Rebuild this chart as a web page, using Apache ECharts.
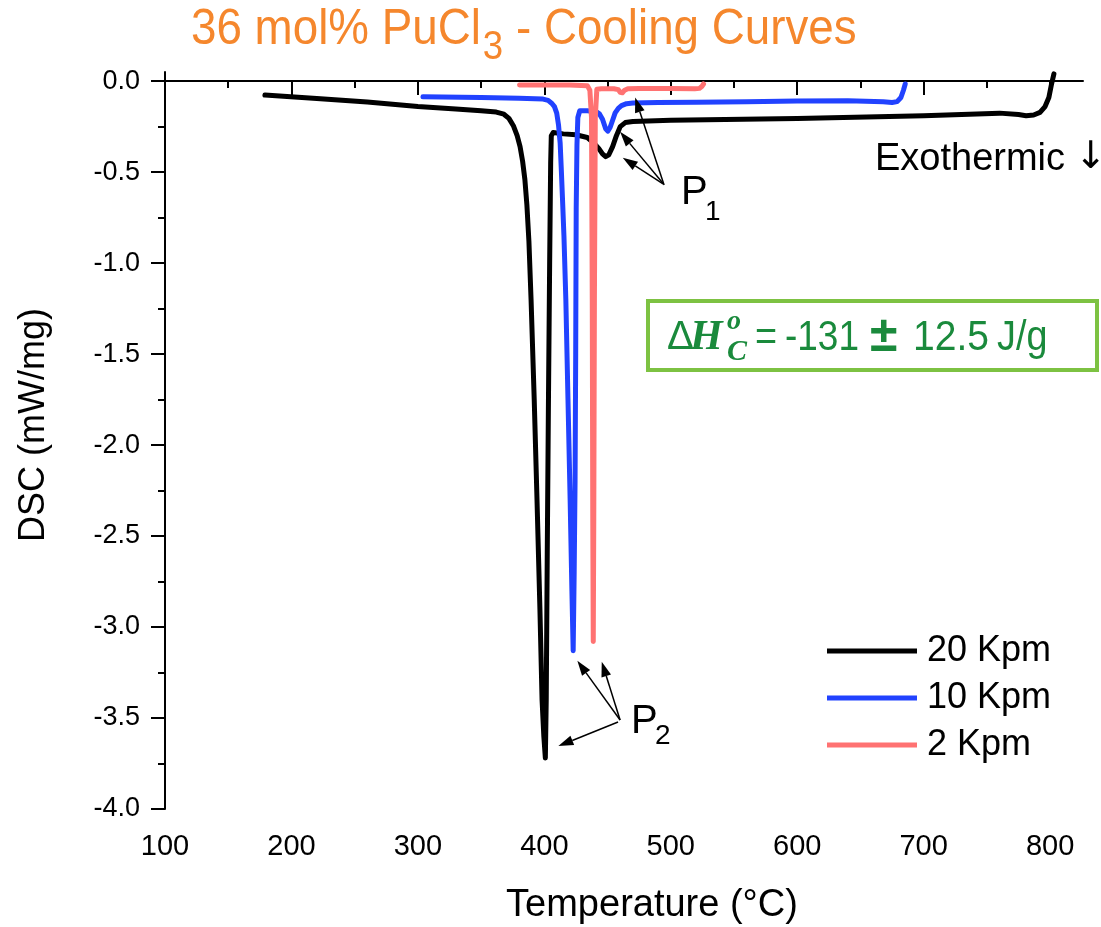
<!DOCTYPE html>
<html>
<head>
<meta charset="utf-8">
<script src="https://cdn.jsdelivr.net/npm/echarts@6/dist/echarts.min.js"></script>
<style>
  html, body { margin: 0; padding: 0; background: #ffffff; }
  #chart { width: 1101px; height: 927px; }
</style>
</head>
<body>
<div id="chart"></div>
<script>
// ---- DSC cooling curves, 36 mol% PuCl3 ----
const seriesNames = ['20 Kpm', '10 Kpm', '2 Kpm'];
const seriesColors = ['#000000', '#2142FF', '#FF7272'];

// 20 K/min run: temperature (°C) and heat flow (mW/mg), high T to low T
const temp20 = [803, 801, 799, 796, 792, 787, 781, 775, 760, 700, 600, 500, 470, 464, 460, 457, 454, 451, 448.5, 446, 443, 439, 434, 425, 415, 407,
  405.5, 405, 404.2, 403.2, 402.3, 401.5, 400.8, 399.6, 398.2, 396.5, 394.2, 392, 389.5, 387.8, 386.2, 384.6, 382.8, 380.8, 378.5, 375.5, 372, 368, 362, 350, 330, 300, 260, 220, 179];
const dsc20 = [0.04, -0.02, -0.09, -0.14, -0.172, -0.186, -0.19, -0.184, -0.176, -0.19, -0.205, -0.215, -0.222, -0.228, -0.25, -0.3, -0.36, -0.405, -0.415, -0.4, -0.37, -0.34, -0.31, -0.295, -0.29, -0.283,
  -0.3, -0.45, -1.0, -1.8, -2.6, -3.4, -3.72, -3.6, -3.4, -2.9, -2.3, -1.75, -1.2, -0.88, -0.68, -0.54, -0.44, -0.36, -0.3, -0.245, -0.205, -0.182, -0.17, -0.163, -0.153, -0.14, -0.115, -0.095, -0.077];

// 10 K/min run
const temp10 = [685.4, 684, 682, 679, 675, 668, 640, 600, 560, 520, 490, 470, 465, 461, 458.5, 456, 454, 452, 450.2, 448.5, 446, 443.5, 441, 434, 428,
  426.5, 425.8, 425.2, 424.8, 424.3, 423.6, 422.8, 421.8, 420.4, 418.7, 417, 415.5, 414.6, 413.5, 412.5, 411.2, 409.8, 408, 406, 403, 399, 380, 350, 304];
const dsc10 = [-0.016, -0.05, -0.09, -0.113, -0.118, -0.113, -0.108, -0.11, -0.113, -0.116, -0.118, -0.12, -0.124, -0.135, -0.15, -0.175, -0.215, -0.255, -0.275, -0.262, -0.21, -0.18, -0.168, -0.163, -0.163,
  -0.2, -0.35, -0.7, -1.5, -2.2, -2.7, -3.13, -2.8, -2.3, -1.75, -1.2, -0.85, -0.69, -0.5, -0.34, -0.24, -0.176, -0.14, -0.123, -0.106, -0.099, -0.094, -0.09, -0.086];

// 2 K/min run
const temp2 = [525.9, 524.5, 522.7, 519, 500, 475, 466, 463.5, 461.7, 460, 458.5, 455, 445, 441.5,
  440.3, 439.6, 439.1, 438.7, 438.3, 437.9, 437.3, 436, 434, 420, 400, 380.4];
const dsc2 = [-0.016, -0.03, -0.04, -0.042, -0.041, -0.04, -0.042, -0.05, -0.064, -0.062, -0.047, -0.042, -0.042, -0.045,
  -0.2, -1.2, -2.4, -3.08, -2.4, -1.2, -0.2, -0.05, -0.025, -0.021, -0.021, -0.022];

// axis ticks
const xTicks = [100, 200, 300, 400, 500, 600, 700, 800];
const xMinorTicks = [150, 250, 350, 450, 550, 650, 750];
const yTicks = [0, -0.5, -1, -1.5, -2, -2.5, -3, -3.5, -4];
const yMinorTicks = [-0.25, -0.75, -1.25, -1.75, -2.25, -2.75, -3.25, -3.75];

// annotation arrows (data coordinates): [from, to]
const p1Arrows = [
  [[494.7, -0.571], [471.8, -0.090]],
  [[494.3, -0.565], [459.9, -0.279]],
  [[493.9, -0.565], [462.0, -0.421]]
];
const p2Arrows = [
  [[458.3, -3.522], [411.1, -3.654]],
  [[459.9, -3.511], [426.1, -3.185]],
  [[459.9, -3.511], [445.4, -3.191]]
];

const SANS = '"Liberation Sans", Arial, Helvetica, sans-serif';
const SERIF = '"Liberation Serif", "Times New Roman", serif';
const GREEN_TEXT = '#1A8A3C';

const toPairs = (xs, ys) => xs.map((x, i) => [x, ys[i]]);
const runs = [toPairs(temp20, dsc20), toPairs(temp10, dsc10), toPairs(temp2, dsc2)];

const chart = echarts.init(document.getElementById('chart'), null, { renderer: 'canvas' });

const axisLineStyle = { color: '#000', width: 2 };

const option = {
  animation: false,
  backgroundColor: '#ffffff',
  grid: { left: 165, right: 18, top: 72, bottom: 118, containLabel: false },
  legend: {
    data: seriesNames,
    orient: 'vertical',
    left: 822,
    top: 628,
    icon: 'rect',
    itemWidth: 90,
    itemHeight: 5,
    itemGap: 11,
    textStyle: { fontFamily: SANS, fontSize: 36, color: '#000', padding: [0, 0, 0, 5] }
  },
  xAxis: [
    {
      type: 'value', min: 100, max: 826, interval: 100,
      axisLine: { show: true, lineStyle: axisLineStyle },
      axisTick: { show: true, inside: false, length: 14, lineStyle: axisLineStyle, customValues: xTicks },
      axisLabel: { customValues: xTicks, fontFamily: SANS, fontSize: 29, color: '#000', margin: 23 },
      splitLine: { show: false }
    },
    {
      type: 'value', min: 100, max: 826, position: 'bottom',
      axisLine: { show: false },
      axisTick: { show: true, inside: false, length: 7, lineStyle: axisLineStyle, customValues: xMinorTicks },
      axisLabel: { show: false },
      splitLine: { show: false }
    }
  ],
  yAxis: [
    {
      type: 'value', min: -4, max: 0.05, interval: 0.5,
      axisLine: { show: true, lineStyle: axisLineStyle },
      axisTick: { show: true, inside: false, length: 14, lineStyle: axisLineStyle, customValues: yTicks },
      axisLabel: {
        customValues: yTicks, fontFamily: SANS, fontSize: 27, color: '#000', margin: 25,
        formatter: v => (Math.abs(v) < 1e-9 ? 0 : v).toFixed(1)
      },
      splitLine: { show: false }
    },
    {
      type: 'value', min: -4, max: 0.05, position: 'left',
      axisLine: { show: false },
      axisTick: { show: true, inside: false, length: 7, lineStyle: axisLineStyle, customValues: yMinorTicks },
      axisLabel: { show: false },
      splitLine: { show: false }
    }
  ],
  series: seriesNames.map((name, i) => ({
    name,
    type: 'line',
    xAxisIndex: 0,
    yAxisIndex: 0,
    data: runs[i],
    showSymbol: false,
    symbol: 'none',
    smooth: false,
    clip: true,
    color: seriesColors[i],
    lineStyle: { color: seriesColors[i], width: 5, join: 'round', cap: 'round' },
    z: 2 + i
  }))
};

chart.setOption(option);

// ---- text and annotation layer ----
const measureCtx = document.createElement('canvas').getContext('2d');
function textWidth(str, font) { measureCtx.font = font; return measureCtx.measureText(str).width; }

function txt(str, x, y, font, color, opts) {
  opts = opts || {};
  const align = opts.align || 'left';
  return {
    type: 'text', x, y,
    rotation: opts.rotation || 0,
    scaleX: opts.scaleX || 1,
    silent: true, z: 100,
    style: { text: str, font, fill: color, align, verticalAlign: 'middle', textAlign: align, textVerticalAlign: 'middle' }
  };
}

function arrow(from, to) {
  const a = chart.convertToPixel({ gridIndex: 0 }, from);
  const b = chart.convertToPixel({ gridIndex: 0 }, to);
  const dx = b[0] - a[0], dy = b[1] - a[1];
  const len = Math.hypot(dx, dy);
  const ux = dx / len, uy = dy / len;
  const headLen = 15, headHalf = 5;
  const base = [b[0] - ux * headLen, b[1] - uy * headLen];
  return [
    { type: 'line', silent: true, z: 90, shape: { x1: a[0], y1: a[1], x2: base[0], y2: base[1] }, style: { stroke: '#000', lineWidth: 1.5 } },
    {
      type: 'polygon', silent: true, z: 90,
      shape: { points: [[b[0], b[1]], [base[0] - uy * headHalf, base[1] + ux * headHalf], [base[0] + uy * headHalf, base[1] - ux * headHalf]] },
      style: { fill: '#000' }
    }
  ];
}

const graphics = [];

// heading
const titleFont = '50px ' + SANS;
const titleSubFont = '40px ' + SANS;
const titleScale = 0.915;
const titleX = 191;
const titleColor = '#F5872D';
const part1 = '36 mol% PuCl';
const part3 = ' - Cooling Curves';
const w1 = textWidth(part1, titleFont) * titleScale;
const wSub = textWidth('3', titleSubFont) * titleScale;
graphics.push(txt(part1, titleX, 30, titleFont, titleColor, { scaleX: titleScale }));
graphics.push(txt('3', titleX + w1 + 2, 48, titleSubFont, titleColor, { scaleX: titleScale }));
graphics.push(txt(part3, titleX + w1 + 2 + wSub, 30, titleFont, titleColor, { scaleX: titleScale }));

// axis titles
graphics.push(txt('Temperature (°C)', 652, 906, '38px ' + SANS, '#000', { align: 'center' }));
graphics.push(txt('DSC (mW/mg)', 34, 425, '36px ' + SANS, '#000', { align: 'center', rotation: Math.PI / 2 }));

// heat-flow direction note
graphics.push(txt('Exothermic', 875, 160, '38px ' + SANS, '#000'));
graphics.push(txt('\u2193', 1075, 158, '38px "DejaVu Sans", ' + SANS, '#000'));

// enthalpy box
graphics.push({
  type: 'rect', silent: true, z: 80,
  shape: { x: 648, y: 301, width: 449, height: 69 },
  style: { fill: '#ffffff', stroke: '#7DC242', lineWidth: 4 }
});
const eqFont = '42px ' + SANS;
graphics.push(txt('\u0394', 667, 338, '40px ' + SANS, GREEN_TEXT));
graphics.push(txt('H', 690, 338, 'italic bold 42px ' + SERIF, GREEN_TEXT));
graphics.push(txt('o', 727, 322, 'italic bold 28px ' + SERIF, GREEN_TEXT));
graphics.push(txt('C', 727, 352, 'italic bold 30px ' + SERIF, GREEN_TEXT));
graphics.push(txt('=', 755, 338, eqFont, GREEN_TEXT, { scaleX: 0.9 }));
graphics.push(txt('-131', 785, 338, eqFont, GREEN_TEXT, { scaleX: 0.88 }));
graphics.push(txt('\u00B1', 870, 337, 'bold 50px ' + SANS, GREEN_TEXT));
graphics.push(txt('12.5', 913, 338, eqFont, GREEN_TEXT, { scaleX: 0.93 }));
graphics.push(txt('J/g', 997, 338, eqFont, GREEN_TEXT, { scaleX: 0.9 }));

// peak labels
graphics.push(txt('P', 681, 193, '40px ' + SANS, '#000'));
graphics.push(txt('1', 705, 212, '28px ' + SANS, '#000'));
graphics.push(txt('P', 631, 722, '40px ' + SANS, '#000'));
graphics.push(txt('2', 655, 736, '28px ' + SANS, '#000'));

p1Arrows.concat(p2Arrows).forEach(([f, t]) => { arrow(f, t).forEach(g => graphics.push(g)); });

chart.setOption({ graphic: { elements: graphics } });
</script>
</body>
</html>
